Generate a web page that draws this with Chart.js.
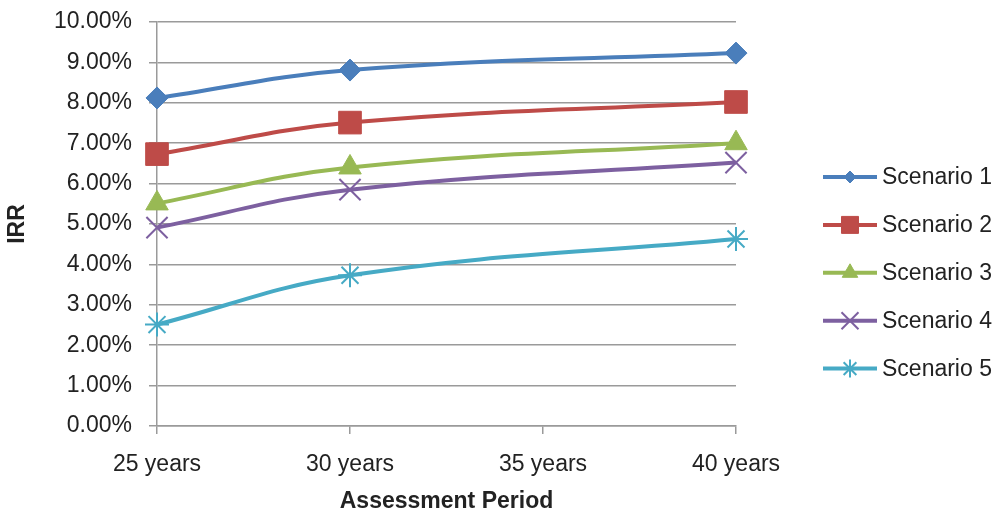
<!DOCTYPE html>
<html>
<head>
<meta charset="utf-8">
<script src="https://cdn.jsdelivr.net/npm/chart.js@4.4.1/dist/chart.umd.min.js"></script>
<style>
  html, body { margin: 0; padding: 0; background: #ffffff; }
  #wrap { width: 998px; height: 514px; position: relative; }
</style>
</head>
<body>
<div id="wrap"><canvas id="irr"></canvas></div>
<script>
// Assessment periods on the horizontal axis (no results computed for 35 years)
const periods = ['25 years', '30 years', '35 years', '40 years'];

// IRR (%) per scenario and assessment period
const scenario1 = [8.12, 8.81, null, 9.23];
const scenario2 = [6.73, 7.51, null, 8.02];
const scenario3 = [5.51, 6.40, null, 7.00];
const scenario4 = [4.91, 5.85, null, 6.52];
const scenario5 = [2.51, 3.73, null, 4.63];

const seriesNames = ['Scenario 1', 'Scenario 2', 'Scenario 3', 'Scenario 4', 'Scenario 5'];

// Axis range for the IRR scale (percent)
const irrMin = 0;
const irrMax = 10;
const irrStep = 1;

const TEXT = '#222222';
const GRID = '#9a9a9a';
const FONT = "'Liberation Sans', Arial, sans-serif";

const styles = [
  { color: '#4a7ebb', point: 'rectRot',  r: 11,  lr: 6,  bw: 1 },
  { color: '#be4b48', point: 'rect',     r: 16,  lr: 12, bw: 1 },
  { color: '#98b954', point: 'triangle', r: 13,  lr: 9,  bw: 1 },
  { color: '#7d60a0', point: 'crossRot', r: 15,  lr: 12, bw: 2 },
  { color: '#46aac5', point: 'star',     r: 12,  lr: 9,  bw: 2 }
];

const values = [scenario1, scenario2, scenario3, scenario4, scenario5];

const datasets = values.map((vals, i) => ({
  label: seriesNames[i],
  data: vals,
  borderColor: styles[i].color,
  backgroundColor: styles[i].color,
  borderWidth: 4,
  tension: 0.4,
  spanGaps: true,
  clip: false,
  pointStyle: styles[i].point,
  pointRadius: styles[i].r,
  pointHoverRadius: styles[i].r,
  pointBorderWidth: styles[i].bw,
  pointBorderColor: styles[i].color,
  pointBackgroundColor: styles[i].color
}));

// Legend on the right: line sample with the series marker, then the name
const sideLegend = {
  id: 'sideLegend',
  afterDraw(chart) {
    const ctx = chart.ctx;
    const x0 = 823, x1 = 877, textX = 882;
    const y0 = 177, step = 47.9;
    ctx.save();
    chart.data.datasets.forEach((ds, i) => {
      const y = y0 + i * step;
      ctx.strokeStyle = ds.borderColor;
      ctx.lineWidth = 4;
      ctx.lineCap = 'butt';
      ctx.beginPath();
      ctx.moveTo(x0, y);
      ctx.lineTo(x1, y);
      ctx.stroke();
      ctx.fillStyle = ds.pointBackgroundColor;
      ctx.strokeStyle = ds.pointBorderColor;
      ctx.lineWidth = ds.pointBorderWidth;
      Chart.helpers.drawPoint(ctx, {
        pointStyle: ds.pointStyle,
        radius: styles[i].lr,
        rotation: 0,
        borderWidth: ds.pointBorderWidth
      }, (x0 + x1) / 2, y);
      ctx.fillStyle = TEXT;
      ctx.font = '23px ' + FONT;
      ctx.textAlign = 'left';
      ctx.textBaseline = 'middle';
      ctx.fillText(ds.label, textX, y + 1);
    });
    ctx.restore();
  }
};

new Chart(document.getElementById('irr'), {
  type: 'line',
  data: { labels: periods, datasets },
  options: {
    responsive: true,
    maintainAspectRatio: false,
    animation: false,
    layout: { padding: { top: 22, right: 262, bottom: 0, left: 0 } },
    plugins: {
      legend: { display: false },
      tooltip: { enabled: false }
    },
    scales: {
      x: {
        type: 'category',
        offset: false,
        grid: {
          display: true,
          drawOnChartArea: false,
          drawTicks: true,
          tickLength: 8,
          color: GRID,
          lineWidth: 1.5
        },
        border: { display: true, color: GRID, width: 1.5 },
        ticks: {
          color: TEXT,
          font: { family: FONT, size: 23, lineHeight: 1.2 },
          padding: 17,
          maxRotation: 0,
          autoSkip: false
        },
        title: {
          display: true,
          text: 'Assessment Period',
          color: TEXT,
          font: { family: FONT, size: 23, weight: 'bold', lineHeight: 1 },
          padding: { top: 0, bottom: 1 }
        },
        afterFit(scale) {
          scale.height = 88;
          scale.paddingLeft = 0;
          scale.paddingRight = 0;
        }
      },
      y: {
        min: irrMin,
        max: irrMax,
        grid: {
          color: GRID,
          lineWidth: 1.5,
          drawTicks: true,
          tickLength: 8
        },
        border: { display: true, color: GRID, width: 1.5 },
        ticks: {
          stepSize: irrStep,
          color: TEXT,
          font: { family: FONT, size: 23, lineHeight: 1.2 },
          padding: 17,
          callback: (v) => v.toFixed(2) + '%'
        },
        title: {
          display: true,
          text: 'IRR',
          color: TEXT,
          font: { family: FONT, size: 23, weight: 'bold', lineHeight: 1 },
          padding: { top: 6, bottom: 0 }
        },
        afterFit(scale) {
          scale.width = 157;
          scale.paddingTop = 0;
          scale.paddingBottom = 0;
        }
      }
    }
  },
  plugins: [sideLegend]
});
</script>
</body>
</html>
